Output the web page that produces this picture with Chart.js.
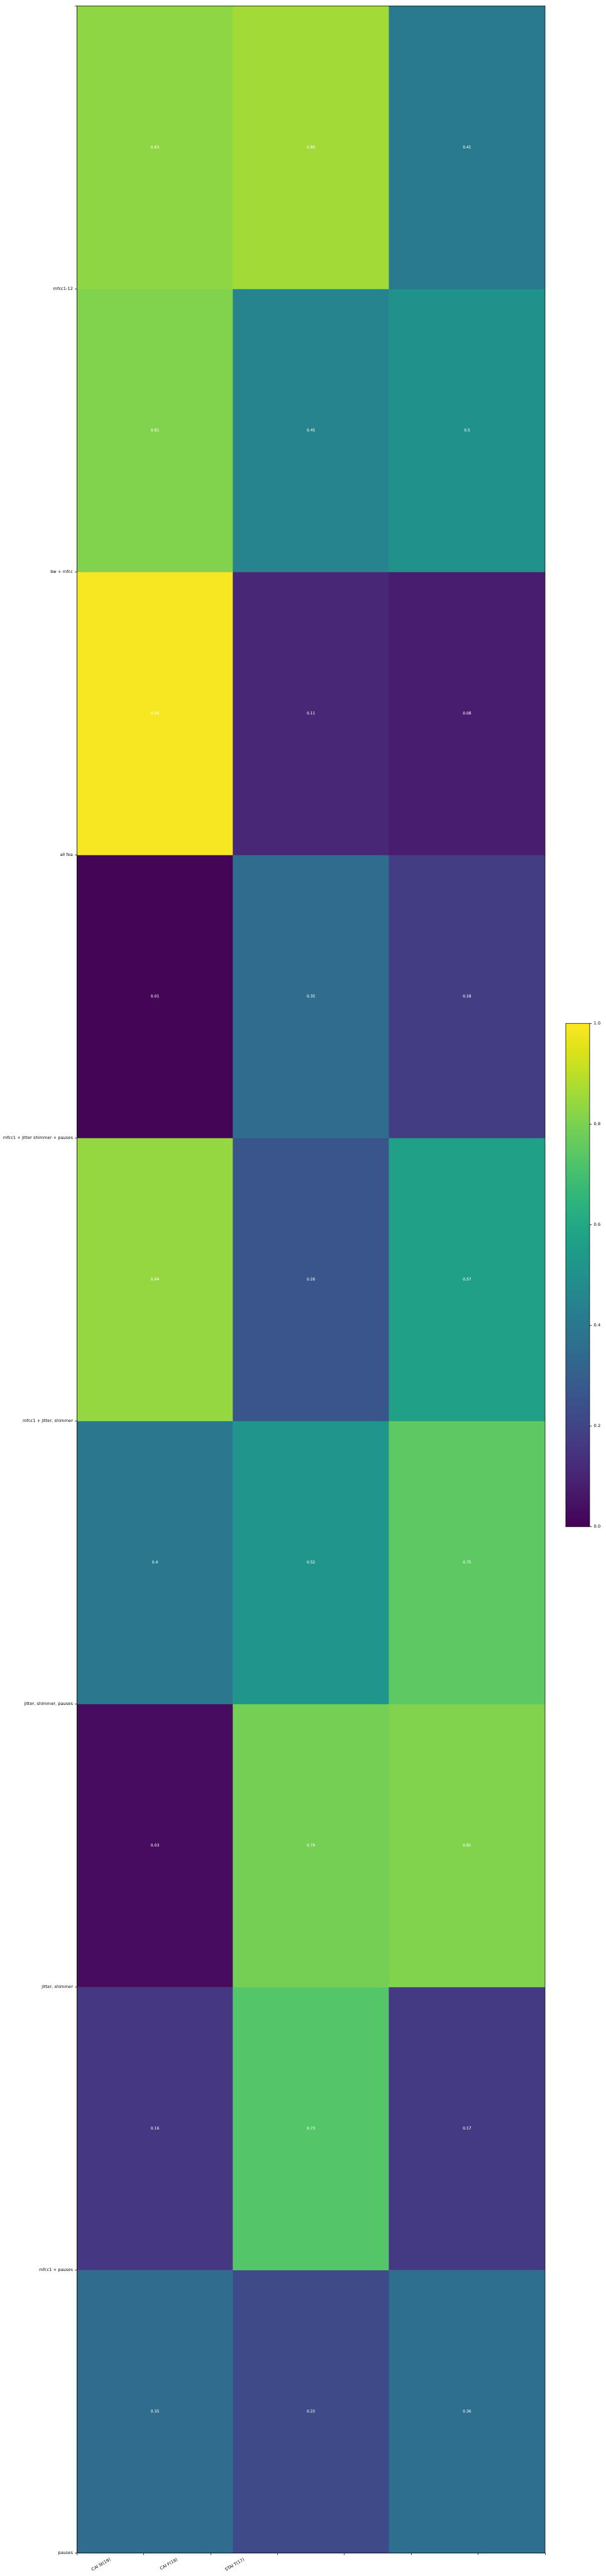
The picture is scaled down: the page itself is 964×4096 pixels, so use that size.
<!DOCTYPE html>
<html>
<head>
<meta charset="utf-8">
<script src="https://cdn.jsdelivr.net/npm/chart.js@4/dist/chart.umd.min.js"></script>
<style>
  html, body { margin: 0; padding: 0; background: #fff; }
  #wrap { position: relative; width: 964px; height: 4096px; }
  #main { position: absolute; left: 0; top: 0; }
  #cbar { position: absolute; left: 880px; top: 1620px; }
</style>
</head>
<body>
<div id="wrap">
  <canvas id="main" width="964" height="4096"></canvas>
  <canvas id="cbar" width="90" height="815"></canvas>
</div>
<script>
// ---- data ----
const columns = ['c0', 'c1', 'c2'];
const xTickValues = [-0.5, 0, 0.5, 1, 1.5, 2, 2.5];
const xTickLabels = ['CAI St(19)', 'CAI F(18)', 'STAI T(17)'];
const yTickValues = [-0.5, 0.5, 1.5, 2.5, 3.5, 4.5, 5.5, 6.5, 7.5, 8.5];
const yTickLabels = ['', 'mfcc1-12', 'bw + mfcc', 'all fea', 'mfcc1 + jitter shimmer + pauses',
  'mfcc1 + jitter, shimmer', 'jitter, shimmer, pauses', 'jitter, shimmer', 'mfcc1 + pauses', 'pauses'];
const row0 = [0.83, 0.86, 0.41];
const row1 = [0.81, 0.45, 0.5];
const row2 = [0.99, 0.11, 0.08];
const row3 = [0.01, 0.35, 0.18];
const row4 = [0.84, 0.26, 0.57];
const row5 = [0.4, 0.52, 0.75];
const row6 = [0.03, 0.79, 0.81];
const row7 = [0.16, 0.73, 0.17];
const row8 = [0.35, 0.22, 0.36];
const rows = [row0, row1, row2, row3, row4, row5, row6, row7, row8];
const cbTicks = [0, 0.2, 0.4, 0.6, 0.8, 1.0];

// ---- viridis colormap ----
const VIR = ['#440154','#471365','#482475','#463480','#414487','#3b528b','#355f8d','#2f6c8e',
  '#2a788e','#25848e','#21918c','#1e9c89','#22a884','#2fb47c','#44bf70','#5ec962',
  '#7ad151','#9bd93c','#bddf26','#dfe318','#fde725'];
function hex2rgb(h) { return [parseInt(h.slice(1,3),16), parseInt(h.slice(3,5),16), parseInt(h.slice(5,7),16)]; }
function viridis(t) {
  t = Math.max(0, Math.min(1, t));
  const p = t * (VIR.length - 1);
  const i = Math.min(Math.floor(p), VIR.length - 2);
  const f = p - i;
  const a = hex2rgb(VIR[i]), b = hex2rgb(VIR[i + 1]);
  const c = a.map((v, k) => Math.round(v + (b[k] - v) * f));
  return `rgb(${c[0]},${c[1]},${c[2]})`;
}

const S = 0.669;
const FONT = "'DejaVu Sans', sans-serif";
const fs = 10 * S;

// ---- main heatmap ----
const datasets = rows.map((vals, r) => ({
  label: yTickLabels[r + 1],
  data: vals.map((v, c) => ({ x: columns[c], y: [r - 0.5, r + 0.5], v: v })),
  backgroundColor: vals.map(v => viridis(v)),
  borderWidth: 0,
  grouped: false,
  barPercentage: 1,
  categoryPercentage: 1
}));

const cellLabels = {
  id: 'cellLabels',
  afterDatasetsDraw(chart) {
    const ctx = chart.ctx;
    ctx.save();
    ctx.fillStyle = '#ffffff';
    ctx.font = `${9 * S}px ${FONT}`;
    ctx.textAlign = 'center';
    ctx.textBaseline = 'middle';
    chart.data.datasets.forEach((ds, i) => {
      const meta = chart.getDatasetMeta(i);
      meta.data.forEach((el, j) => {
        const p = el.getCenterPoint();
        ctx.fillText(String(rows[i][j]), p.x, p.y);
      });
    });
    const a = chart.chartArea;
    ctx.strokeStyle = '#000';
    ctx.lineWidth = 0.8 * S * 1.39;
    ctx.strokeRect(a.left, a.top, a.right - a.left, a.bottom - a.top);
    ctx.restore();
  }
};

const tickColor = '#000';
new Chart(document.getElementById('main'), {
  type: 'bar',
  data: { labels: columns, datasets },
  options: {
    responsive: false,
    animation: false,
    devicePixelRatio: 1,
    layout: { padding: { top: 14 * S, right: 964 - 1296 * S, left: 0, bottom: 0 } },
    plugins: { legend: { display: false }, tooltip: { enabled: false } },
    scales: {
      x: { type: 'category', offset: true, display: false, grid: { offset: true } },
      xt: {
        type: 'linear', position: 'bottom', min: -0.5, max: 2.5,
        afterBuildTicks: (s) => { s.ticks = xTickValues.map(v => ({ value: v })); },
        afterFit: (s) => { s.height = 4096 - 6068 * S; },
        border: { display: true, color: '#000', width: 0.8 * S * 1.39 },
        grid: { display: true, drawOnChartArea: false, color: tickColor, lineWidth: 0.8 * S * 1.39, tickLength: 3.5 * 1.39 * S },
        ticks: {
          autoSkip: false, minRotation: 30, maxRotation: 30, padding: 3.5 * 1.39 * S,
          color: '#000', font: { family: FONT, size: fs },
          callback: (v, i) => xTickLabels[i] || ''
        }
      },
      y: {
        type: 'linear', reverse: true, min: -0.5, max: 8.5,
        afterBuildTicks: (s) => { s.ticks = yTickValues.map(v => ({ value: v })); },
        afterFit: (s) => { s.width = 183 * S; },
        border: { display: true, color: '#000', width: 0.8 * S * 1.39 },
        grid: { display: true, drawOnChartArea: false, color: tickColor, lineWidth: 0.8 * S * 1.39, tickLength: 3.5 * 1.39 * S },
        ticks: {
          autoSkip: false, padding: 3.5 * 1.39 * S, color: '#000', font: { family: FONT, size: fs },
          callback: (v, i) => yTickLabels[i] || ''
        }
      }
    }
  },
  plugins: [cellLabels]
});

// ---- colorbar ----
const cbFrame = {
  id: 'cbFrame',
  afterDatasetsDraw(chart) {
    const a = chart.chartArea, ctx = chart.ctx;
    ctx.save();
    ctx.strokeStyle = '#000';
    ctx.lineWidth = 0.8 * S * 1.39;
    ctx.strokeRect(a.left, a.top, a.right - a.left, a.bottom - a.top);
    ctx.restore();
  }
};
new Chart(document.getElementById('cbar'), {
  type: 'bar',
  data: {
    labels: ['cb'],
    datasets: [{
      data: [[0, 1]],
      barPercentage: 1, categoryPercentage: 1, borderWidth: 0,
      backgroundColor: (c) => {
        const ch = c.chart, a = ch.chartArea;
        if (!a) return '#888';
        const g = ch.ctx.createLinearGradient(0, a.bottom, 0, a.top);
        VIR.forEach((h, k) => g.addColorStop(k / (VIR.length - 1), h));
        return g;
      }
    }]
  },
  options: {
    responsive: false, animation: false, devicePixelRatio: 1,
    layout: { padding: { top: 5, bottom: 5, left: 20, right: 0 } },
    plugins: { legend: { display: false }, tooltip: { enabled: false } },
    scales: {
      x: { type: 'category', offset: true, display: false },
      y: {
        type: 'linear', position: 'right', min: 0, max: 1,
        afterBuildTicks: (s) => { s.ticks = cbTicks.map(v => ({ value: v })); },
        afterFit: (s) => { s.width = 90 - 20 - 38; },
        border: { display: false },
        grid: { display: true, drawOnChartArea: false, color: '#000', lineWidth: 0.8 * S * 1.39, tickLength: 3.5 * 1.39 * S },
        ticks: { padding: 3.5 * 1.39 * S, color: '#000', font: { family: FONT, size: fs },
          callback: (v) => v.toFixed(1) }
      }
    }
  },
  plugins: [cbFrame]
});
</script>
</body>
</html>
